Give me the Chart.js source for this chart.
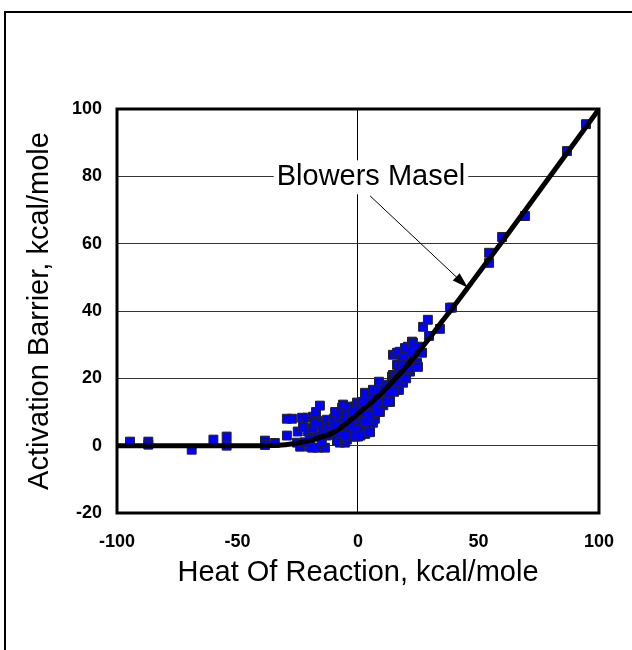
<!DOCTYPE html>
<html>
<head>
<meta charset="utf-8">
<script src="https://cdn.jsdelivr.net/npm/chart.js@4/dist/chart.umd.min.js"></script>
<style>
  html, body { margin: 0; padding: 0; background: #fff; }
  canvas { display: block; }
</style>
</head>
<body>
<canvas id="chart" width="632" height="650"></canvas>
<script>
// Blowers-Masel curve
const curveX = [-100, -40, -30, -25, -20, -15, -10, -5, 0, 5, 10, 15, 20, 25, 30, 35, 40, 45, 50, 60, 70, 80, 90, 100];
const curveY = [0, 0, 0.3, 0.8, 1.5, 2.6, 4, 6.5, 9.5, 12.5, 15.8, 19.5, 23.5, 27.8, 32.3, 37, 41.6, 46.4, 51.2, 60.8, 70.5, 80.3, 90.1, 100];

// measured reactions: heat of reaction / activation barrier
const heatX = [
  -94.6, -87, -87, -69, -60, -54.5, -54.5, -38.6, -38.6, -34.5,
  -29.5, -29.5, -27.4, -25, -25.3, -24, -23.2, -22.8, -21, -20.7,
  -20, -19, -18.7, -18.7, -17.4, -17, -17.8, -16.6, -16.6, -15.8,
  -15, -14.5, -13.7, -12.9, -12.9, -11.6, -11.6, -10.4, -10.4, -10,
  -9.5, -8.7, -8.7, -8.3, -7.5, -7.5, -7.5, -7, -6.6, -6.2,
  -6.2, -5.8, -5.4, -5.4, -4.6, -4.6, -4.6, -4.1, -3.7, -3.3,
  -3.3, -3.3, -2, -2, -1.2, -1.2, -1.2, -0.4, -0.4, 0,
  0.8, 0.8, 1.5, 2, 2.9, 2.9, 3.7, 3.7, 4.1, 5,
  5, 6.2, 6.2, 7, 7, 8.3, 8.7, 9.1, 10, 10.5,
  12, 12, 13.3, 13.3, 14.1, 14.5, 14.5, 15.4, 16.2, 16.2,
  16.6, 16.6, 17, 17.4, 17.4, 18.3, 18.7, 18.7, 18.7, 19.5,
  20.7, 20.7, 21.6, 21.6, 21.6, 22.4, 22.4, 22.8, 22.8, 23.6,
  24.5, 24.9, 24.9, 26.6, 27, 29, 29.5, 34, 38.2, 39,
  54.4, 54.4, 59.8, 69.3, 86.7, 94.6,
  1, 2, 3, 4, 6, -2, 8, 9, 11, 12,
  1, 2, 3, 4, 5, 6, 7, 8, 9, 10,
  11, 12, 13, 14, 15, 16, 17, 18, 19, 20,
  21, -1, -3, -5, 0, 1, 3, 5, -9, -13,
  -15, -20, -22
];
const barrierY = [
  1.2, 1.2, 0.3, -1.2, 1.8, 2.7, 0, 1.5, 0.2, 0.8,
  3, 8, 8, 4.2, 0.9, -0.3, 8.3, 5.6, 8.3, 4.2,
  -0.3, -0.6, 5.3, 8.6, 10, 7.4, 6.8, -0.6, 2.7, 11.9,
  6.2, 4.7, -0.6, 6.2, 7.7, 3.6, 5.6, 3.3, 7.1, 8,
  10, 1.5, 1.8, 4.2, 0.9, 7.7, 9.2, 6, 11.3, 5.6,
  12.2, 1.2, 0.9, 7.7, 1.8, 5.3, 9.8, 11.6, 3.3, 2.7,
  4.2, 8.3, 4.7, 7.7, 2.7, 7.7, 11.6, 9.2, 12.8, 2.7,
  7.1, 9.8, 4.5, 11, 5.6, 15.7, 8.3, 8.6, 11.3, 13.6,
  6.5, 6.8, 16.6, 8, 9.2, 12.2, 19, 10, 16.6, 12,
  17.2, 18.1, 13, 13.6, 20.5, 21, 27, 21, 24, 27.6,
  16.6, 27.6, 16.6, 24, 27.9, 25.5, 18.7, 22.6, 26.1, 29,
  26.4, 29.4, 22, 25.5, 29, 27.9, 30.9, 25.5, 30.6, 24,
  24.6, 23.4, 29.4, 27.6, 35.3, 37.4, 32.6, 34.7, 41, 41,
  54.3, 57.3, 62, 68.2, 87.5, 95.5,
  6, 9, 3.5, 10, 11, 10, 14, 11, 14, 15,
  12, 13, 10, 7, 9, 14, 12, 10, 16, 13,
  17, 13, 16, 18, 16, 19, 22, 21, 24, 20,
  23, 5, 6, 3, 5, 3, 7, 4, 6, 3,
  1, 2, 1
];

const xTicks = [-100, -50, 0, 50, 100];
const yTicks = [-20, 0, 20, 40, 60, 80, 100];

const FONT = "'Liberation Sans', Arial, sans-serif";

const framePlugin = {
  id: 'frame',
  beforeDraw(chart) {
    const ctx = chart.ctx;
    ctx.save();
    ctx.strokeStyle = '#000';
    ctx.lineWidth = 2;
    ctx.beginPath();
    ctx.moveTo(5, 650);
    ctx.lineTo(5, 12);
    ctx.lineTo(632, 12);
    ctx.stroke();
    ctx.restore();
  },
  afterDatasetsDraw(chart) {
    const { ctx, chartArea: a } = chart;
    ctx.save();
    ctx.strokeStyle = '#000';
    ctx.lineWidth = 3;
    ctx.strokeRect(a.left, a.top, a.right - a.left, a.bottom - a.top);
    ctx.restore();
  }
};

const labelPlugin = {
  id: 'bmLabel',
  afterDraw(chart) {
    const { ctx, scales: { x, y } } = chart;
    const tx = x.getPixelForValue(5.4), ty = y.getPixelForValue(80);
    ctx.save();
    ctx.font = '29px ' + FONT;
    const w = ctx.measureText('Blowers Masel').width;
    ctx.fillStyle = '#fff';
    ctx.fillRect(tx - w / 2 - 3, ty - 16, w + 6, 34);
    ctx.fillStyle = '#000';
    ctx.textAlign = 'center';
    ctx.textBaseline = 'middle';
    ctx.fillText('Blowers Masel', tx, ty + 1);
    // arrow
    const x0 = x.getPixelForValue(5), y0 = y.getPixelForValue(74.2);
    const x1 = x.getPixelForValue(45.6), y1 = y.getPixelForValue(46.9);
    const ang = Math.atan2(y1 - y0, x1 - x0);
    ctx.strokeStyle = '#000';
    ctx.lineWidth = 1;
    ctx.beginPath();
    ctx.moveTo(x0, y0);
    ctx.lineTo(x1 - 12 * Math.cos(ang), y1 - 12 * Math.sin(ang));
    ctx.stroke();
    ctx.beginPath();
    ctx.moveTo(x1, y1);
    ctx.lineTo(x1 - 16 * Math.cos(ang) + 5 * Math.sin(ang), y1 - 16 * Math.sin(ang) - 5 * Math.cos(ang));
    ctx.lineTo(x1 - 16 * Math.cos(ang) - 5 * Math.sin(ang), y1 - 16 * Math.sin(ang) + 5 * Math.cos(ang));
    ctx.closePath();
    ctx.fillStyle = '#000';
    ctx.fill();
    ctx.restore();
  }
};

new Chart(document.getElementById('chart'), {
  type: 'scatter',
  data: {
    datasets: [
      {
        label: 'Blowers Masel',
        data: curveX.map((v, i) => ({ x: v, y: curveY[i] })),
        showLine: true,
        borderColor: '#000',
        borderWidth: 5,
        pointRadius: 0,
        cubicInterpolationMode: 'monotone',
        order: 0,
      },
      {
        label: 'Data',
        data: heatX.map((v, i) => ({ x: v, y: barrierY[i] })),
        pointStyle: 'rect',
        pointRadius: 6.3,
        backgroundColor: '#0000ff',
        borderColor: '#222',
        borderWidth: 1,
        order: 1,
      },
    ],
  },
  options: {
    responsive: false,
    animation: false,
    layout: { padding: { left: 0, top: 109, right: 33, bottom: 0 } },
    plugins: { legend: { display: false }, tooltip: { enabled: false } },
    scales: {
      x: {
        type: 'linear', min: -100, max: 100,
        afterBuildTicks: s => { s.ticks = xTicks.map(v => ({ value: v })); },
        afterFit: s => { s.height = 137; },
        border: { display: false },
        grid: { drawTicks: false, lineWidth: 1, color: c => (c.tick && c.tick.value === 0 ? '#000' : 'rgba(0,0,0,0)') },
        ticks: { color: '#000', padding: 18, font: { family: FONT, size: 18, weight: 'bold' } },
        title: { display: true, text: 'Heat Of Reaction, kcal/mole', color: '#000', padding: { top: 0, bottom: 60 }, font: { family: FONT, size: 29 } },
      },
      y: {
        type: 'linear', min: -20, max: 100,
        afterBuildTicks: s => { s.ticks = yTicks.map(v => ({ value: v })); },
        afterFit: s => { s.width = 117; },
        border: { display: false },
        grid: { drawTicks: false, lineWidth: 1, color: '#333' },
        ticks: { color: '#000', padding: 15, font: { family: FONT, size: 18, weight: 'bold' } },
        title: { display: true, text: 'Activation Barrier, kcal/mole', color: '#000', padding: { top: 23, bottom: 0 }, font: { family: FONT, size: 29 } },
      },
    },
  },
  plugins: [framePlugin, labelPlugin],
});
</script>
</body>
</html>
